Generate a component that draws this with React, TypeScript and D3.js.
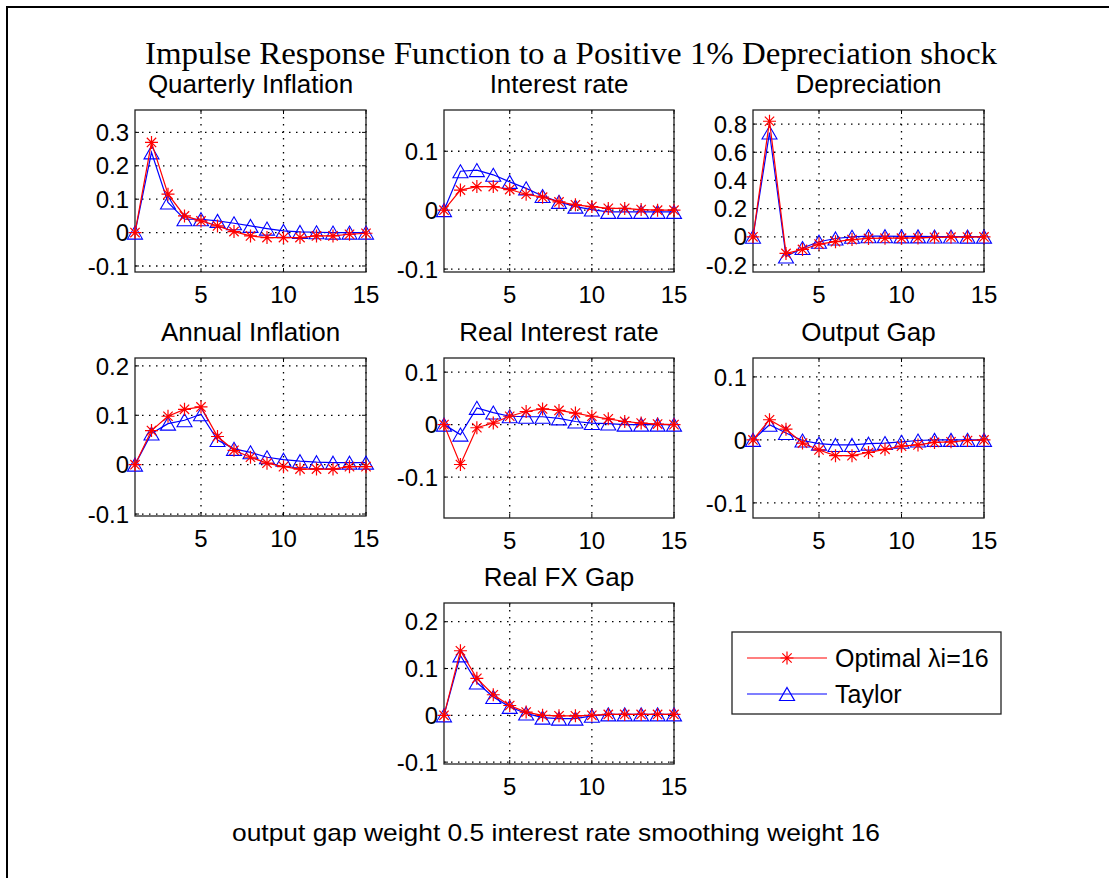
import React, { useEffect, useRef } from "react";
import * as d3 from "d3";

// horizon (quarters)
const periods = [1, 2, 3, 4, 5, 6, 7, 8, 9, 10, 11, 12, 13, 14, 15];
const xTicks = [5, 10, 15];

const qInflOptimal = [0, 0.27, 0.115, 0.05, 0.035, 0.02, 0.003, -0.01, -0.015, -0.015, -0.015, -0.01, -0.01, -0.005, -0.002];
const qInflTaylor = [0, 0.24, 0.09, 0.04, 0.04, 0.035, 0.028, 0.02, 0.012, 0.005, 0.002, 0.001, 0, 0, 0];

const rateOptimal = [0, 0.034, 0.04, 0.04, 0.035, 0.027, 0.022, 0.014, 0.009, 0.006, 0.003, 0.003, 0.001, 0, 0];
const rateTaylor = [0, 0.066, 0.068, 0.06, 0.048, 0.037, 0.024, 0.014, 0.006, 0.001, -0.003, -0.003, -0.003, -0.003, -0.003];

const deprOptimal = [0, 0.82, -0.118, -0.09, -0.052, -0.035, -0.02, -0.012, -0.01, -0.01, -0.008, -0.004, -0.003, -0.002, -0.001];
const deprTaylor = [0, 0.74, -0.14, -0.08, -0.035, -0.012, 0, 0.004, 0.004, 0.003, 0.003, 0.002, 0.002, 0.001, 0.001];

const aInflOptimal = [0, 0.069, 0.098, 0.112, 0.117, 0.057, 0.029, 0.015, 0.003, -0.004, -0.009, -0.009, -0.009, -0.004, -0.004];
const aInflTaylor = [0, 0.063, 0.083, 0.09, 0.102, 0.05, 0.032, 0.025, 0.015, 0.01, 0.007, 0.005, 0.004, 0.004, 0.004];

const realRateOptimal = [0, -0.076, -0.006, 0.003, 0.016, 0.025, 0.03, 0.027, 0.022, 0.016, 0.011, 0.006, 0.003, 0.001, 0];
const realRateTaylor = [0, -0.019, 0.032, 0.023, 0.016, 0.015, 0.015, 0.012, 0.006, 0.003, 0.002, 0, 0, 0, 0];

const gapOptimal = [0, 0.032, 0.017, -0.005, -0.016, -0.025, -0.025, -0.02, -0.015, -0.01, -0.008, -0.004, -0.003, -0.001, 0];
const gapTaylor = [0, 0.024, 0.011, -0.001, -0.006, -0.008, -0.008, -0.006, -0.005, -0.003, -0.001, 0, 0, 0, 0];

const fxOptimal = [0, 0.138, 0.079, 0.044, 0.021, 0.007, 0, -0.001, -0.001, 0, 0.002, 0.002, 0.002, 0.002, 0.002];
const fxTaylor = [0, 0.128, 0.07, 0.039, 0.018, 0.004, -0.005, -0.007, -0.007, -0.001, 0.002, 0.002, 0.002, 0.002, 0.002];

const mainTitle = "Impulse Response Function to a Positive 1% Depreciation shock";
const footNote = "output gap weight 0.5 interest rate smoothing weight 16";
const seriesNames = ["Optimal \u03bbi=16", "Taylor"];

const panels = [
  { title: "Quarterly Inflation", opt: qInflOptimal, tay: qInflTaylor, yTicks: [-0.1, 0, 0.1, 0.2, 0.3], yDomain: [-0.118, 0.367], box: [135, 110, 231, 162] },
  { title: "Interest rate", opt: rateOptimal, tay: rateTaylor, yTicks: [-0.1, 0, 0.1], yDomain: [-0.105, 0.17], box: [444, 110, 230, 162] },
  { title: "Depreciation", opt: deprOptimal, tay: deprTaylor, yTicks: [-0.2, 0, 0.2, 0.4, 0.6, 0.8], yDomain: [-0.25, 0.9], box: [753, 110, 231, 162] },
  { title: "Annual Inflation", opt: aInflOptimal, tay: aInflTaylor, yTicks: [-0.1, 0, 0.1, 0.2], yDomain: [-0.104, 0.216], box: [135, 358, 231, 158] },
  { title: "Real Interest rate", opt: realRateOptimal, tay: realRateTaylor, yTicks: [-0.1, 0, 0.1], yDomain: [-0.178, 0.127], box: [444, 358, 230, 160] },
  { title: "Output Gap", opt: gapOptimal, tay: gapTaylor, yTicks: [-0.1, 0, 0.1], yDomain: [-0.124, 0.13], box: [753, 358, 231, 160] },
  { title: "Real FX Gap", opt: fxOptimal, tay: fxTaylor, yTicks: [-0.1, 0, 0.1, 0.2], yDomain: [-0.104, 0.24], box: [444, 603, 230, 161] },
];

const RED = "#ff0000";
const BLUE = "#0000ff";
const SANS = "'Liberation Sans', Arial, Helvetica, sans-serif";

const starPath = (r) => {
  const d = r * 0.72;
  return `M${-r},0H${r}M0,${-r}V${r}M${-d},${-d}L${d},${d}M${-d},${d}L${d},${-d}`;
};
const triPath = (w, h) => `M0,${-h / 2}L${w / 2},${h / 2}L${-w / 2},${h / 2}Z`;

const fmt = (v) => (v === 0 ? "0" : String(v));

const App = () => {
  const ref = useRef(null);

  useEffect(() => {
    const svg = d3.select(ref.current);
    svg.selectAll("*").remove();

    svg.append("rect").attr("width", 1109).attr("height", 878).attr("fill", "#fff");
    // frame (top + left only)
    svg.append("path").attr("d", "M7,878V7H1109").attr("fill", "none").attr("stroke", "#000").attr("stroke-width", 2);

    svg.append("text")
      .attr("x", 571).attr("y", 64)
      .attr("text-anchor", "middle")
      .attr("font-family", "'Liberation Serif', 'Times New Roman', serif")
      .attr("font-size", 31)
      .attr("textLength", 852).attr("lengthAdjust", "spacingAndGlyphs")
      .text(mainTitle);

    panels.forEach((p) => {
      const [bx, by, bw, bh] = p.box;
      const x = d3.scaleLinear().domain([1, 15]).range([bx, bx + bw]);
      const y = d3.scaleLinear().domain(p.yDomain).range([by + bh, by]);
      const g = svg.append("g");

      // grid
      xTicks.forEach((t) => {
        g.append("line").attr("x1", x(t)).attr("x2", x(t)).attr("y1", by).attr("y2", by + bh)
          .attr("stroke", "#000").attr("stroke-width", 1.3).attr("stroke-dasharray", "1.5,5.5");
      });
      p.yTicks.forEach((t) => {
        g.append("line").attr("x1", bx).attr("x2", bx + bw).attr("y1", y(t)).attr("y2", y(t))
          .attr("stroke", "#000").attr("stroke-width", 1.3).attr("stroke-dasharray", "1.5,5.5");
      });

      // ticks inside box
      xTicks.forEach((t) => {
        g.append("line").attr("x1", x(t)).attr("x2", x(t)).attr("y1", by + bh).attr("y2", by + bh - 4).attr("stroke", "#000");
        g.append("line").attr("x1", x(t)).attr("x2", x(t)).attr("y1", by).attr("y2", by + 4).attr("stroke", "#000");
        g.append("text").attr("x", x(t)).attr("y", by + bh + 31)
          .attr("text-anchor", "middle").attr("font-family", SANS).attr("font-size", 24).text(String(t));
      });
      p.yTicks.forEach((t) => {
        g.append("line").attr("x1", bx).attr("x2", bx + 4).attr("y1", y(t)).attr("y2", y(t)).attr("stroke", "#000");
        g.append("line").attr("x1", bx + bw).attr("x2", bx + bw - 4).attr("y1", y(t)).attr("y2", y(t)).attr("stroke", "#000");
        g.append("text").attr("x", bx - 6).attr("y", y(t)).attr("dy", "0.36em")
          .attr("text-anchor", "end").attr("font-family", SANS).attr("font-size", 24).text(fmt(t));
      });

      g.append("rect").attr("x", bx).attr("y", by).attr("width", bw).attr("height", bh)
        .attr("fill", "none").attr("stroke", "#222").attr("stroke-width", 1.3);

      g.append("text").attr("x", bx + bw / 2).attr("y", by - 17)
        .attr("text-anchor", "middle").attr("font-family", SANS).attr("font-size", 26).text(p.title);

      const line = d3.line().x((d, i) => x(periods[i])).y((d) => y(d));

      // Taylor
      g.append("path").datum(p.tay).attr("d", line).attr("fill", "none").attr("stroke", BLUE).attr("stroke-width", 1.2);
      g.selectAll(".tri").data(p.tay).enter().append("path")
        .attr("transform", (d, i) => `translate(${x(periods[i])},${y(d)})`)
        .attr("d", triPath(15, 13)).attr("fill", "none").attr("stroke", BLUE).attr("stroke-width", 1.1);

      // Optimal
      g.append("path").datum(p.opt).attr("d", line).attr("fill", "none").attr("stroke", RED).attr("stroke-width", 1.2);
      g.selectAll(".star").data(p.opt).enter().append("path")
        .attr("transform", (d, i) => `translate(${x(periods[i])},${y(d)})`)
        .attr("d", starPath(6.5)).attr("fill", "none").attr("stroke", RED).attr("stroke-width", 1.2);
    });

    // legend
    const lg = svg.append("g");
    lg.append("rect").attr("x", 732).attr("y", 632).attr("width", 269).attr("height", 82)
      .attr("fill", "#fff").attr("stroke", "#222").attr("stroke-width", 1.3);
    const rows = [
      { name: seriesNames[0], color: RED, mark: starPath(6.5), yy: 658 },
      { name: seriesNames[1], color: BLUE, mark: triPath(15, 13), yy: 694 },
    ];
    rows.forEach((r) => {
      lg.append("line").attr("x1", 747).attr("x2", 827).attr("y1", r.yy).attr("y2", r.yy).attr("stroke", r.color).attr("stroke-width", 1.2);
      lg.append("path").attr("transform", `translate(787,${r.yy})`).attr("d", r.mark).attr("fill", "none").attr("stroke", r.color).attr("stroke-width", 1.2);
      lg.append("text").attr("x", 835).attr("y", r.yy).attr("dy", "0.36em")
        .attr("font-family", SANS).attr("font-size", 25).text(r.name);
    });

    svg.append("text")
      .attr("x", 556).attr("y", 841)
      .attr("text-anchor", "middle")
      .attr("font-family", SANS).attr("font-size", 24)
      .attr("textLength", 648).attr("lengthAdjust", "spacingAndGlyphs")
      .text(footNote);
  }, []);

  return (
    <svg ref={ref} width={1109} height={878} style={{ position: "absolute", left: 0, top: 0, display: "block" }}></svg>
  );
};

export default App;
